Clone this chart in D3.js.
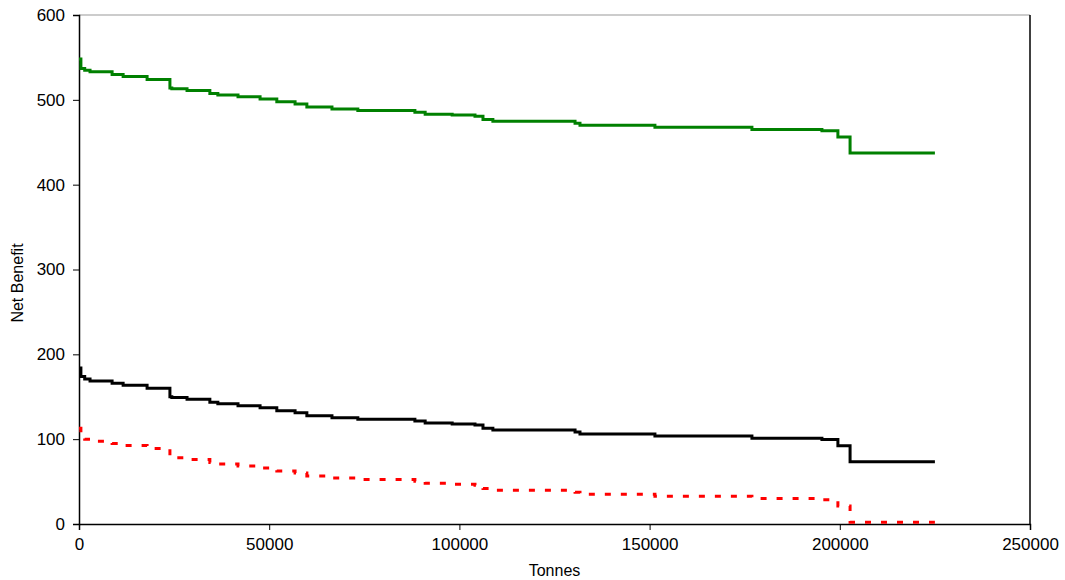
<!DOCTYPE html>
<html>
<head>
<meta charset="utf-8">
<script src="https://cdn.jsdelivr.net/npm/d3@7"></script>
<style>
  body { margin: 0; background: #fff; }
  text { font-family: Arial, "Liberation Sans", sans-serif; }
</style>
</head>
<body>
<div id="chart"></div>
<script>
// step breakpoints (tonnes) shared by the three curves
var tonnes = [0, 500, 1500, 2900, 8700, 11600, 17900, 23900, 24400, 28400, 34400, 36500,
    41800, 47600, 52000, 56800, 59900, 66500, 73300, 88300, 91000, 98100, 104100,
    106200, 108800, 130400, 131700, 151400, 176900, 195300, 199500, 202700, 225000];

// net benefit, one value per breakpoint
var greenBenefit = [548, 537, 535, 533, 530, 527.5, 524, 514, 513, 511, 507.5, 505.8,
    503.5, 501, 497.6, 495, 491.7, 489.3, 487.4, 485.4, 483, 482, 480.7,
    476.8, 474.8, 472.5, 470, 467.7, 465, 463.5, 456.3, 437.4, 437.4];
var blackBenefit = [184, 174, 171, 168.6, 166, 163.5, 160, 150, 149, 147, 143.5, 141.8,
    139.5, 137, 133.6, 131, 127.7, 125.3, 123.4, 121.4, 119, 118, 116.7,
    112.8, 110.8, 108.5, 106, 103.7, 101, 99.5, 92.3, 73.4, 73.4];
var redBenefit = [113, 103, 100, 97.6, 95, 92.5, 89, 79, 78, 76, 72.5, 70.8,
    68.5, 66, 62.6, 60, 56.7, 54.3, 52.4, 50.4, 48, 47, 45.7,
    41.8, 39.8, 37.5, 35, 32.7, 30, 28.5, 21.3, 2.2, 2.2];

var yTicks = [0, 100, 200, 300, 400, 500, 600];
var xTicks = [0, 50000, 100000, 150000, 200000, 250000];

var width = 1065, height = 580;
var margin = {left: 79, right: 35, top: 15, bottom: 56};

var svg = d3.select("#chart").append("svg")
    .attr("width", width)
    .attr("height", height);

var x = d3.scaleLinear().domain([0, 250000]).range([margin.left, width - margin.right]);
var y = d3.scaleLinear().domain([0, 600]).range([height - margin.bottom, margin.top]);

// plot frame: grey top, black right
svg.append("line")
    .attr("x1", x(0)).attr("x2", x(250000))
    .attr("y1", y(600)).attr("y2", y(600))
    .attr("stroke", "#999").attr("stroke-width", 1);
svg.append("line")
    .attr("x1", x(250000)).attr("x2", x(250000))
    .attr("y1", y(600)).attr("y2", y(0))
    .attr("stroke", "#000").attr("stroke-width", 1.5);

// axes
var xAxis = svg.append("g")
    .attr("transform", "translate(0," + y(0) + ")")
    .call(d3.axisBottom(x).tickValues(xTicks).tickSize(6).tickPadding(8).tickFormat(d3.format("d")));
var yAxis = svg.append("g")
    .attr("transform", "translate(" + x(0) + ",0)")
    .call(d3.axisLeft(y).tickValues(yTicks).tickSize(6).tickPadding(8).tickFormat(d3.format("d")));

[xAxis, yAxis].forEach(function(a) {
    a.select(".domain").attr("stroke", "#000").attr("stroke-width", 1.5);
    a.selectAll(".tick line").attr("stroke", "#000").attr("stroke-width", 1);
    a.selectAll(".tick text").attr("font-size", 17).attr("fill", "#000")
        .attr("font-family", "Arial, 'Liberation Sans', sans-serif");
});

// axis titles
svg.append("text")
    .attr("x", (x(0) + x(250000)) / 2)
    .attr("y", 576)
    .attr("text-anchor", "middle")
    .attr("font-size", 16)
    .text("Tonnes");
svg.append("text")
    .attr("transform", "translate(23," + 283 + ") rotate(-90)")
    .attr("text-anchor", "middle")
    .attr("font-size", 16)
    .text("Net Benefit");

// step lines
var line = d3.line()
    .x(function(d) { return x(d[0]); })
    .y(function(d) { return y(d[1]); })
    .curve(d3.curveStepAfter);

function drawSeries(values, colour, dash) {
    var pts = tonnes.map(function(t, i) { return [t, values[i]]; });
    var p = svg.append("path")
        .datum(pts)
        .attr("fill", "none")
        .attr("stroke", colour)
        .attr("stroke-width", 3)
        .attr("d", line);
    if (dash) p.attr("stroke-dasharray", dash);
}

drawSeries(greenBenefit, "#008000");
drawSeries(blackBenefit, "#000");
drawSeries(redBenefit, "#ff0000", "6,10");
</script>
</body>
</html>
